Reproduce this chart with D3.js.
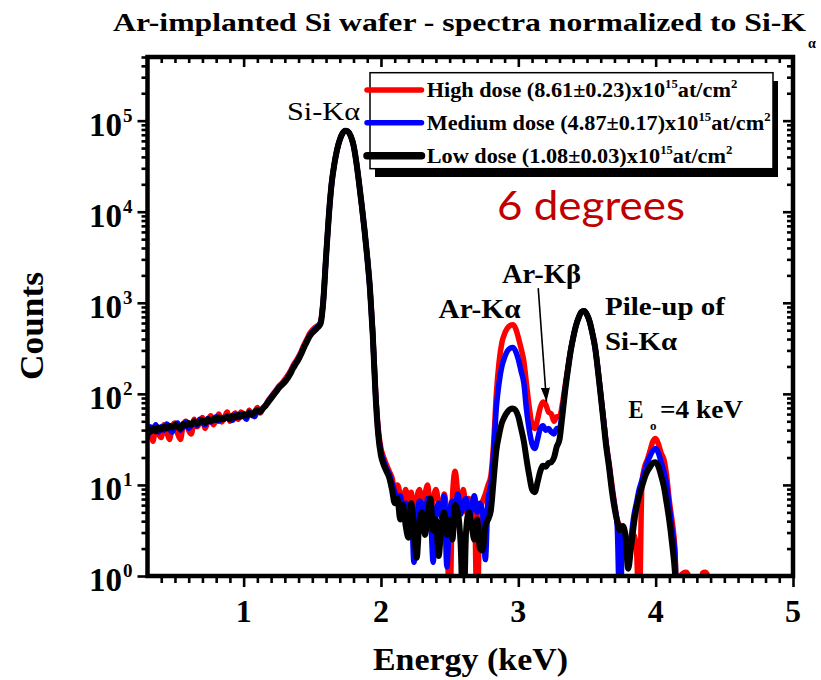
<!DOCTYPE html>
<html><head><meta charset="utf-8">
<script src="https://cdn.jsdelivr.net/npm/d3@7"></script>
<style>
body{margin:0;background:#fff}
svg{display:block}
</style>
</head><body>
<svg id="chart" width="821" height="680" font-family="'Liberation Serif','Times New Roman',serif"></svg>
<script>
// ---- data (channel energies in keV, counts stored as log10) ----
const energy = [
0.30,0.32,0.34,0.36,0.38,0.40,0.42,0.44,0.46,0.48,
0.50,0.52,0.54,0.56,0.58,0.60,0.62,0.64,0.66,0.68,
0.70,0.72,0.74,0.76,0.78,0.80,0.82,0.84,0.86,0.88,
0.90,0.92,0.94,0.96,0.98,1.00,1.02,1.04,1.06,1.08,
1.10,1.12,1.14,1.16,1.18,1.20,1.22,1.24,1.26,1.28,
1.30,1.32,1.34,1.36,1.38,1.40,1.42,1.44,1.46,1.48,
1.50,1.52,1.54,1.56,1.58,1.60,1.62,1.64,1.66,1.68,
1.70,1.72,1.74,1.76,1.78,1.80,1.82,1.84,1.86,1.88,
1.90,1.92,1.94,1.96,1.98,2.00,2.02,2.04,2.06,2.08,
2.10,2.12,2.14,2.16,2.18,2.20,2.22,2.24,2.26,2.28,
2.30,2.32,2.34,2.36,2.38,2.40,2.42,2.44,2.46,2.48,
2.50,2.52,2.54,2.56,2.58,2.60,2.62,2.64,2.66,2.68,
2.70,2.72,2.74,2.76,2.78,2.80,2.82,2.84,2.86,2.88,
2.90,2.92,2.94,2.96,2.98,3.00,3.02,3.04,3.06,3.08,
3.10,3.12,3.14,3.16,3.18,3.20,3.22,3.24,3.26,3.28,
3.30,3.32,3.34,3.36,3.38,3.40,3.42,3.44,3.46,3.48,
3.50,3.52,3.54,3.56,3.58,3.60,3.62,3.64,3.66,3.68,
3.70,3.72,3.74,3.76,3.78,3.80,3.82,3.84,3.86,3.88,
3.90,3.92,3.94,3.96,3.98,4.00,4.02,4.04,4.06,4.08,
4.10,4.12,4.14,4.16,4.18,4.20,4.22,4.24,4.26,4.28,
4.30,4.32,4.34,4.36,4.38,4.40,4.42,4.44,4.46,4.48,
4.50];

const highDoseLog10 = [
// 0.30-1.28
1.55,1.62,1.48,1.65,1.56,1.52,1.66,1.58,1.50,1.64,
1.68,1.56,1.50,1.66,1.70,1.60,1.56,1.72,1.64,1.68,
1.74,1.62,1.70,1.76,1.66,1.72,1.78,1.69,1.74,1.80,
1.70,1.76,1.79,1.72,1.80,1.78,1.74,1.82,1.76,1.80,
1.85,1.79,1.84,1.88,1.93,1.97,2.01,2.05,2.09,2.12,
// 1.30-2.06
2.16,2.20,2.25,2.31,2.36,2.41,2.47,2.54,2.60,2.66,
2.70,2.73,2.75,2.79,3.03,3.50,3.95,4.30,4.52,4.68,
4.79,4.86,4.89,4.88,4.83,4.73,4.55,4.32,4.07,3.80,
3.50,3.15,2.67,2.04,1.62,1.40,1.30,1.22,1.15,
// 2.08-2.80
1.08,0.95,1.00,0.90,0.82,0.95,0.78,0.92,0.55,0.85,
0.95,0.80,0.90,1.00,0.72,0.85,0.95,0.80,0.70,0.90,
0.60,-0.5,0.85,1.15,0.90,0.80,0.95,0.70,0.85,0.78,
0.80,-0.5,0.70,0.82,0.90,1.00,1.10,
// 2.82-3.28
1.45,2.00,2.35,2.56,2.66,2.72,2.75,2.76,2.72,2.62,
2.50,2.36,2.10,1.85,1.66,1.62,1.72,1.85,1.91,1.88,
1.80,1.78,1.70,1.75,
// 3.30-4.50
1.75,1.88,2.08,2.28,2.47,2.62,2.75,2.84,2.90,2.91,
2.87,2.79,2.66,2.50,2.27,2.00,1.73,1.46,1.25,1.02,
0.80,0.62,0.55,0.52,0.45,0.35,0.40,0.45,0.30,-0.5,
1.02,1.20,1.28,1.38,1.48,1.51,1.45,1.35,1.28,1.10,
0.82,0.60,0.30,-0.5,0.00,0.03,0.04,0.00,-0.5,-0.5,
-0.5,-0.5,0.03,0.04,0.00,-0.5,-0.5,-0.5,-0.5,-0.5,
-0.5];

const mediumDoseLog10 = [
// 0.30-1.28
1.52,1.64,1.60,1.66,1.58,1.64,1.60,1.67,1.62,1.58,
1.65,1.68,1.60,1.64,1.69,1.62,1.66,1.70,1.65,1.72,
1.68,1.66,1.73,1.69,1.71,1.75,1.70,1.74,1.72,1.76,
1.73,1.71,1.77,1.74,1.78,1.76,1.72,1.80,1.78,1.75,
1.82,1.81,1.84,1.87,1.92,1.96,2.00,2.04,2.08,2.11,
// 1.30-2.06
2.14,2.18,2.23,2.29,2.34,2.39,2.45,2.52,2.58,2.64,
2.68,2.71,2.74,2.78,3.02,3.50,3.95,4.30,4.52,4.68,
4.79,4.86,4.89,4.88,4.83,4.73,4.55,4.32,4.07,3.80,
3.50,3.15,2.66,2.02,1.58,1.36,1.26,1.18,1.12,
// 2.08-2.80
1.02,0.92,0.85,0.88,0.75,0.80,0.70,0.80,0.15,0.60,
0.82,0.78,0.65,0.85,0.70,0.15,0.72,0.80,0.65,0.88,
0.10,0.70,0.82,0.75,0.90,0.68,0.80,0.85,0.60,0.75,
0.88,0.70,0.80,0.70,0.18,0.85,1.00,
// 2.82-3.28
1.35,1.85,2.12,2.30,2.40,2.47,2.50,2.51,2.47,2.38,
2.25,2.12,1.82,1.60,1.45,1.40,1.50,1.62,1.65,1.60,
1.62,1.58,1.56,1.62,
// 3.30-4.50
1.62,1.80,2.05,2.26,2.46,2.62,2.75,2.84,2.90,2.91,
2.87,2.79,2.66,2.50,2.26,1.99,1.72,1.44,1.22,0.98,
0.78,0.55,-0.5,0.45,0.35,0.15,0.40,0.65,0.80,0.95,
1.05,1.15,1.25,1.32,1.38,1.40,1.35,1.25,1.15,1.00,
0.75,0.50,0.25,-0.5,-0.5,-0.5,-0.5,-0.5,-0.5,-0.5,
-0.5,-0.5,-0.5,-0.5,-0.5,-0.5,-0.5,-0.5,-0.5,-0.5,
-0.5];

const lowDoseLog10 = [
// 0.30-1.28
1.60,1.58,1.62,1.59,1.63,1.61,1.64,1.62,1.65,1.63,
1.66,1.64,1.62,1.67,1.65,1.68,1.66,1.70,1.67,1.69,
1.71,1.68,1.72,1.70,1.73,1.71,1.74,1.72,1.73,1.75,
1.72,1.76,1.74,1.77,1.75,1.78,1.76,1.79,1.77,1.80,
1.82,1.80,1.84,1.87,1.91,1.95,1.99,2.03,2.07,2.10,
// 1.30-2.06
2.13,2.17,2.22,2.28,2.33,2.38,2.44,2.51,2.57,2.63,
2.67,2.70,2.73,2.77,3.02,3.50,3.95,4.30,4.52,4.68,
4.79,4.86,4.89,4.88,4.83,4.73,4.55,4.32,4.07,3.80,
3.50,3.15,2.65,2.00,1.55,1.32,1.22,1.15,1.08,
// 2.08-2.80
0.95,0.80,0.85,0.62,0.78,0.55,0.42,0.80,0.52,0.20,
0.60,0.70,0.45,0.65,0.85,0.50,0.62,0.22,0.55,0.70,
0.45,0.62,0.40,0.78,0.70,0.35,-0.5,0.50,0.70,0.55,
0.40,0.62,0.30,0.28,0.55,0.62,0.72,
// 2.82-3.28
1.05,1.38,1.55,1.68,1.75,1.80,1.83,1.84,1.82,1.75,
1.62,1.48,1.28,1.10,0.95,0.92,1.03,1.15,1.21,1.20,
1.24,1.25,1.30,1.42,
// 3.30-4.50
1.50,1.75,2.02,2.25,2.46,2.62,2.75,2.84,2.90,2.91,
2.87,2.79,2.66,2.50,2.25,1.98,1.70,1.42,1.20,0.95,
0.75,0.60,0.50,0.55,0.45,0.08,0.30,0.55,0.75,0.88,
0.98,1.08,1.15,1.20,1.24,1.25,1.20,1.10,0.98,0.80,
0.60,0.35,0.05,-0.5,-0.5,-0.5,-0.5,-0.5,-0.5,-0.5,
-0.5,-0.5,-0.5,-0.5,-0.5,-0.5,-0.5,-0.5,-0.5,-0.5,
-0.5];

const seriesNames = ["High dose (8.61\u00B10.23)x10", "Medium dose (4.87\u00B10.17)x10", "Low dose (1.08\u00B10.03)x10"];
const seriesColors = ["#ff0000", "#0000ff", "#000000"];
const xMajorTicks = [1, 2, 3, 4, 5];
const yDecades = [0, 1, 2, 3, 4, 5];

// ---- layout ----
const svg = d3.select("#chart");
const L = 147.5, R = 793, T = 57, B = 576;
const x = d3.scaleLinear().domain([0.3, 5]).range([L, R]);
const y = d3.scaleLog().domain([1, 5e5]).range([B, T]);

const series = [highDoseLog10, mediumDoseLog10, lowDoseLog10].map((arr, i) => ({
  name: seriesNames[i], color: seriesColors[i],
  values: arr.map((v, j) => ({ e: energy[j], c: Math.pow(10, v) }))
}));

const defs = svg.append("defs");
defs.append("clipPath").attr("id", "plotclip")
  .append("rect").attr("x", L).attr("y", T).attr("width", R - L).attr("height", B - T);

const line = d3.line().x(d => x(d.e)).y(d => y(d.c)).curve(d3.curveMonotoneX);
svg.append("g").attr("clip-path", "url(#plotclip)")
  .selectAll("path").data(series).join("path")
  .attr("d", d => line(d.values))
  .attr("fill", "none").attr("stroke", d => d.color)
  .attr("stroke-width", (d, i) => i === 2 ? 6 : 5.5)
  .attr("stroke-linejoin", "round").attr("stroke-linecap", "round");

// ---- axes ----
const xMinor = d3.range(4, 50).map(k => k / 10).filter(v => Math.abs(v - Math.round(v)) > 1e-6);
const yMajor = yDecades.map(d => Math.pow(10, d));
const yMinor = [];
yDecades.forEach(d => { for (let k = 2; k <= 9; k++) { const v = k * Math.pow(10, d); if (v <= 5e5) yMinor.push(v); } });

function styleAxis(g) {
  g.select(".domain").remove();
  g.selectAll(".tick line").attr("stroke", "#000").attr("stroke-width", 2.6);
  g.selectAll(".tick text").remove();
}
svg.append("g").attr("transform", `translate(0,${B})`).call(d3.axisBottom(x).tickValues(xMajorTicks).tickSize(11)).call(styleAxis);
svg.append("g").attr("transform", `translate(0,${B})`).call(d3.axisBottom(x).tickValues(xMinor).tickSize(7)).call(styleAxis);
svg.append("g").attr("transform", `translate(0,${T})`).call(d3.axisTop(x).tickValues(xMajorTicks).tickSize(-10)).call(styleAxis);
svg.append("g").attr("transform", `translate(0,${T})`).call(d3.axisTop(x).tickValues(xMinor).tickSize(-6)).call(styleAxis);
svg.append("g").attr("transform", `translate(${L},0)`).call(d3.axisLeft(y).tickValues(yMajor).tickSize(10)).call(styleAxis);
svg.append("g").attr("transform", `translate(${L},0)`).call(d3.axisLeft(y).tickValues(yMinor).tickSize(6)).call(styleAxis);
svg.append("g").attr("transform", `translate(${R},0)`).call(d3.axisRight(y).tickValues(yMajor).tickSize(-10)).call(styleAxis);
svg.append("g").attr("transform", `translate(${R},0)`).call(d3.axisRight(y).tickValues(yMinor).tickSize(-6)).call(styleAxis);

svg.append("rect").attr("x", L).attr("y", T).attr("width", R - L).attr("height", B - T)
  .attr("fill", "none").attr("stroke", "#000").attr("stroke-width", 4.5);

// x tick labels
svg.append("g").selectAll("text").data(xMajorTicks).join("text")
  .attr("x", d => x(d)).attr("y", B + 46).attr("text-anchor", "middle")
  .attr("font-size", 32).attr("font-weight", "bold").text(d => d);

// y tick labels 10^n
const yl = svg.append("g").selectAll("g").data(yDecades).join("g")
  .attr("transform", d => `translate(0,${y(Math.pow(10, d))})`);
yl.append("text").attr("x", 122).attr("y", 15).attr("text-anchor", "end")
  .attr("font-size", 33).attr("font-weight", "bold").text("10");
yl.append("text").attr("x", 123).attr("y", 1).attr("font-size", 19).attr("font-weight", "bold").text(d => d);

// axis titles
svg.append("text").attr("transform", "translate(43,326) rotate(-90)").attr("text-anchor", "middle")
  .attr("font-size", 33).attr("font-weight", "bold").attr("textLength", 108).attr("lengthAdjust", "spacingAndGlyphs").text("Counts");
svg.append("text").attr("x", 373).attr("y", 670)
  .attr("font-size", 31).attr("font-weight", "bold").attr("textLength", 195).attr("lengthAdjust", "spacingAndGlyphs").text("Energy (keV)");

// title
svg.append("text").attr("x", 113).attr("y", 30.5).attr("font-size", 26).attr("font-weight", "bold")
  .attr("textLength", 693).attr("lengthAdjust", "spacingAndGlyphs").text("Ar-implanted Si wafer - spectra normalized to Si-K");
svg.append("text").attr("x", 808).attr("y", 48).attr("font-size", 14).attr("font-weight", "bold").text("\u03B1");

// legend
const lg = svg.append("g");
lg.append("rect").attr("x", 375).attr("y", 81).attr("width", 403).attr("height", 96).attr("fill", "#000");
lg.append("rect").attr("x", 370).attr("y", 72.7).attr("width", 403).attr("height", 96)
  .attr("fill", "#fff").attr("stroke", "#000").attr("stroke-width", 1.5);
const legY = [90, 122.7, 155.7];
series.forEach((s, i) => {
  lg.append("line").attr("x1", 367).attr("x2", 421.5).attr("y1", legY[i]).attr("y2", legY[i])
    .attr("stroke", s.color).attr("stroke-width", i === 2 ? 7.5 : 5.5).attr("stroke-linecap", "round");
  const t = lg.append("text").attr("transform", `translate(426.7,${legY[i] + 7}) scale(1.06,1)`)
    .attr("font-size", 21).attr("font-weight", "bold");
  t.append("tspan").text(s.name);
  t.append("tspan").attr("font-size", 12).attr("dy", -9).text("15");
  t.append("tspan").attr("dy", 9).text("at/cm");
  t.append("tspan").attr("font-size", 12).attr("dy", -9).text("2");
});

// annotations
function ann(txt, x0, yb, size, len, weight) {
  svg.append("text").attr("x", x0).attr("y", yb).attr("font-size", size).attr("font-weight", weight || "bold")
    .attr("textLength", len).attr("lengthAdjust", "spacingAndGlyphs").text(txt);
}
ann("Si-K\u03B1", 287, 120, 25, 73, "normal");
ann("Ar-K\u03B1", 438.5, 318, 27, 82);
ann("Ar-K\u03B2", 502, 283, 27, 79);
ann("Pile-up of", 605, 315, 26, 120);
ann("Si-K\u03B1", 605, 350, 26, 72);
ann("E", 628.5, 418, 26, 15);
svg.append("text").attr("x", 650).attr("y", 430).attr("font-size", 13).attr("font-weight", "bold").text("o");
ann("=4 keV", 660, 418, 26, 83);

svg.append("text").attr("x", 497).attr("y", 220)
  .style("font-family", "Lato, 'Open Sans', sans-serif")
  .attr("font-size", 40).attr("fill", "#c00000").attr("textLength", 188).attr("lengthAdjust", "spacingAndGlyphs")
  .text("6 degrees");

// arrow to Ar-Kbeta
defs.append("marker").attr("id", "ah").attr("viewBox", "0 0 14 9").attr("refX", 14).attr("refY", 4.5)
  .attr("markerWidth", 14).attr("markerHeight", 9).attr("markerUnits", "userSpaceOnUse").attr("orient", "auto")
  .append("path").attr("d", "M0,0L14,4.5L0,9Z").attr("fill", "#000");
svg.append("line").attr("x1", x(3.145)).attr("y1", y(1450)).attr("x2", x(3.205)).attr("y2", y(82))
  .attr("stroke", "#000").attr("stroke-width", 1.6).attr("marker-end", "url(#ah)");
</script>
</body></html>
